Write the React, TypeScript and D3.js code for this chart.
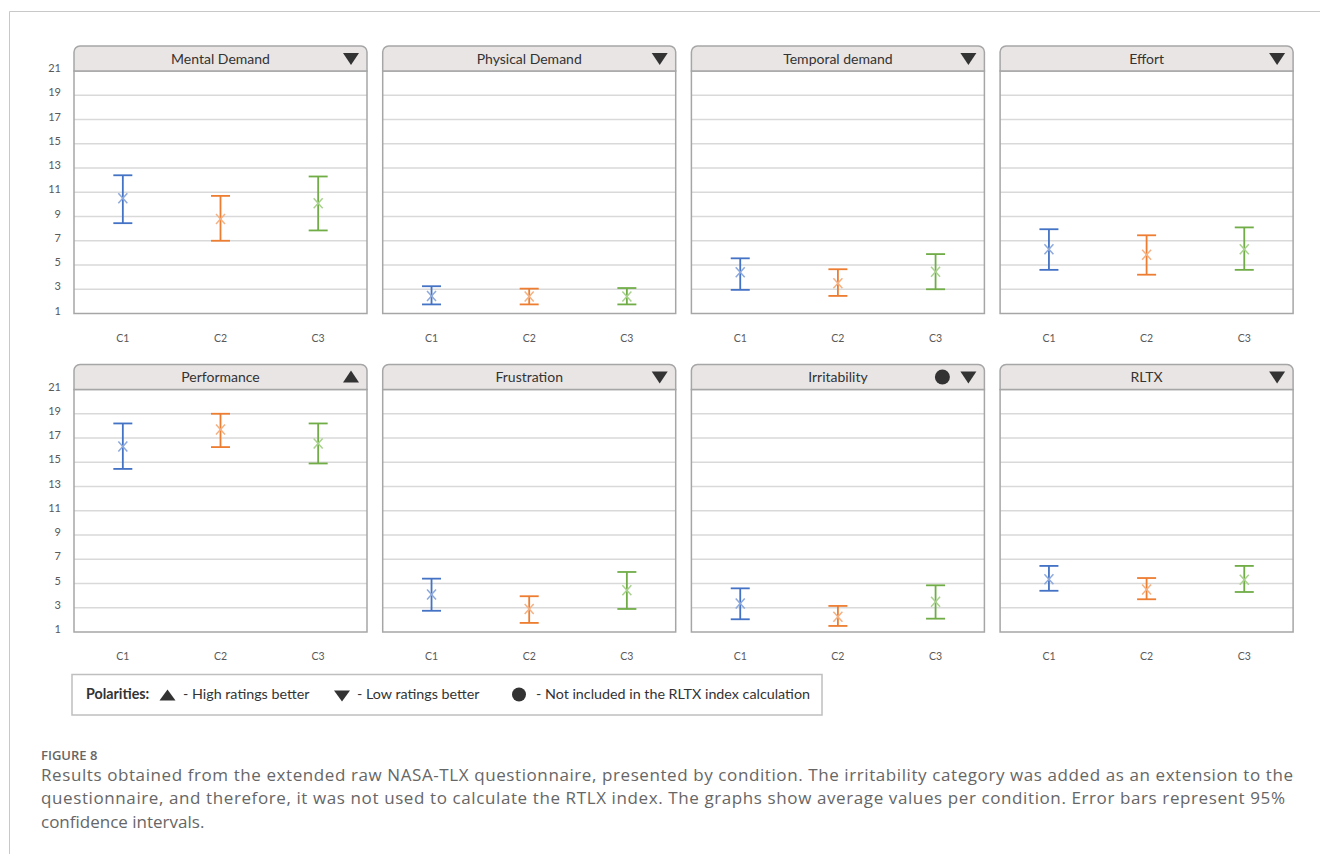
import React from "react";
import * as d3 from "d3";

// NASA-TLX subscales, one panel each
const categories = [
  "Mental Demand",
  "Physical Demand",
  "Temporal demand",
  "Effort",
  "Performance",
  "Frustration",
  "Irritability",
  "RLTX",
];
// polarity marker: "down" = low ratings better, "up" = high ratings better
const polarity = ["down", "down", "down", "down", "up", "down", "down", "down"];
// categories left out of the RLTX index
const excludedFromIndex = [false, false, false, false, false, false, true, false];

const conditions = ["C1", "C2", "C3"];

// mean ratings per category (rows) and condition (columns)
const means = [
  [10.5, 8.8, 10.1],
  [2.45, 2.4, 2.4],
  [4.4, 3.5, 4.45],
  [6.3, 5.85, 6.3],
  [16.3, 17.7, 16.55],
  [4.1, 2.9, 4.45],
  [3.35, 2.25, 3.5],
  [5.35, 4.5, 5.3],
];
// 95% confidence interval bounds
const lower = [
  [8.45, 7.0, 7.85],
  [1.75, 1.75, 1.75],
  [2.95, 2.45, 3.0],
  [4.6, 4.2, 4.6],
  [14.45, 16.25, 14.9],
  [2.75, 1.75, 2.9],
  [2.05, 1.5, 2.1],
  [4.4, 3.7, 4.3],
];
const upper = [
  [12.4, 10.7, 12.3],
  [3.25, 3.05, 3.1],
  [5.55, 4.65, 5.9],
  [7.95, 7.45, 8.1],
  [18.2, 19.0, 18.2],
  [5.4, 3.95, 5.95],
  [4.6, 3.15, 4.85],
  [6.45, 5.45, 6.45],
];

const yTicks = [1, 3, 5, 7, 9, 11, 13, 15, 17, 19, 21];
const yDomain = [1, 21];

const barColors = ["#4472C4", "#ED7D31", "#70AD47"];
const markerColors = ["#8EA9DB", "#F4B183", "#A9D18E"];

const captionHead = "FIGURE 8";
const captionLines = [
  "Results obtained from the extended raw NASA-TLX questionnaire, presented by condition. The irritability category was added as an extension to the",
  "questionnaire, and therefore, it was not used to calculate the RTLX index. The graphs show average values per condition. Error bars represent 95%",
  "confidence intervals.",
];
// wrapped caption lines are set to the text column's measure
const captionWidths = [1252, 1244, null];

const W = 1320;
const H = 854;

// panel grid geometry
const panelLeft0 = 74;
const panelStep = 308.7;
const panelW = 293;
const headerH = 25;
const plotH = 242.5;
const rowTops = [46, 364.5];

const uiFont = "Lato, 'Open Sans', sans-serif";
const gridColor = "#D9D9D9";
const frameColor = "#A6A6A6";
const dark = "#333333";
const tickColor = "#595959";

function DownTri({ cx, cy, w = 16, h = 12 }: { cx: number; cy: number; w?: number; h?: number }) {
  const p = d3.path();
  p.moveTo(cx - w / 2, cy - h / 2);
  p.lineTo(cx + w / 2, cy - h / 2);
  p.lineTo(cx, cy + h / 2);
  p.closePath();
  return <path d={p.toString()} fill={dark} />;
}

function UpTri({ cx, cy, w = 16, h = 12 }: { cx: number; cy: number; w?: number; h?: number }) {
  const p = d3.path();
  p.moveTo(cx - w / 2, cy + h / 2);
  p.lineTo(cx + w / 2, cy + h / 2);
  p.lineTo(cx, cy - h / 2);
  p.closePath();
  return <path d={p.toString()} fill={dark} />;
}

function Panel({ idx }: { idx: number }) {
  const col = idx % 4;
  const row = Math.floor(idx / 4);
  const left = panelLeft0 + col * panelStep;
  const top = rowTops[row];
  const plotTop = top + headerH;
  const plotBottom = plotTop + plotH;

  const y = d3.scaleLinear().domain(yDomain).range([plotBottom, plotTop]);
  const x = d3.scaleBand().domain(conditions).range([left, left + panelW]).padding(0);

  const r = 6;
  const hp = d3.path();
  hp.moveTo(left, plotTop);
  hp.lineTo(left, top + r);
  hp.arcTo(left, top, left + r, top, r);
  hp.lineTo(left + panelW - r, top);
  hp.arcTo(left + panelW, top, left + panelW, top + r, r);
  hp.lineTo(left + panelW, plotTop);
  hp.closePath();

  const right = left + panelW;
  const capHalf = 9.5;
  const mx = 4.5;
  const my = 5;

  return (
    <g>
      <rect x={left} y={plotTop} width={panelW} height={plotH} fill="#FFFFFF" />
      {yTicks
        .filter((t) => t !== yDomain[0] && t !== yDomain[1])
        .map((t) => (
          <line key={t} x1={left} x2={right} y1={y(t)} y2={y(t)} stroke={gridColor} strokeWidth={1.5} />
        ))}
      <rect x={left} y={plotTop} width={panelW} height={plotH} fill="none" stroke={frameColor} strokeWidth={1.5} />
      <path d={hp.toString()} fill="#E9E5E5" stroke={frameColor} strokeWidth={1.5} />
      <text
        x={left + panelW / 2}
        y={top + 17.5}
        textAnchor="middle"
        fontFamily={uiFont}
        fontSize={14}
        fill={dark}
      >
        {categories[idx]}
      </text>
      {polarity[idx] === "down" ? (
        <DownTri cx={right - 16} cy={top + 13} />
      ) : (
        <UpTri cx={right - 16} cy={top + 12} />
      )}
      {excludedFromIndex[idx] && <circle cx={right - 42} cy={top + 12.5} r={7.5} fill={dark} />}

      {conditions.map((c, j) => {
        const cx = (x(c) as number) + x.bandwidth() / 2;
        const yl = y(lower[idx][j]);
        const yu = y(upper[idx][j]);
        const ym = y(means[idx][j]);
        return (
          <g key={c}>
            <line x1={cx} x2={cx} y1={yl} y2={yu} stroke={barColors[j]} strokeWidth={1.8} />
            <line x1={cx - capHalf} x2={cx + capHalf} y1={yu} y2={yu} stroke={barColors[j]} strokeWidth={1.8} />
            <line x1={cx - capHalf} x2={cx + capHalf} y1={yl} y2={yl} stroke={barColors[j]} strokeWidth={1.8} />
            <line x1={cx - mx} x2={cx + mx} y1={ym - my} y2={ym + my} stroke={markerColors[j]} strokeWidth={1.5} />
            <line x1={cx - mx} x2={cx + mx} y1={ym + my} y2={ym - my} stroke={markerColors[j]} strokeWidth={1.5} />
            <text
              x={cx}
              y={plotBottom + 28}
              textAnchor="middle"
              fontFamily={uiFont}
              fontSize={10.5}
              fill={tickColor}
            >
              {c}
            </text>
          </g>
        );
      })}

      {col === 0 &&
        yTicks.map((t) => (
          <text
            key={t}
            x={61}
            y={y(t) + 1}
            textAnchor="end"
            fontFamily={uiFont}
            fontSize={11}
            fill={tickColor}
          >
            {t}
          </text>
        ))}
    </g>
  );
}

export default function App() {
  const legendY = 699;
  const legendFs = 14.3;
  return (
    <svg
      width={W}
      height={H}
      viewBox={`0 0 ${W} ${H}`}
      style={{ position: "absolute", left: 0, top: 0, background: "#FFFFFF" }}
    >
      <rect x={0} y={0} width={W} height={H} fill="#FFFFFF" />
      {/* page frame */}
      <line x1={9.5} x2={W} y1={11.5} y2={11.5} stroke="#C8C8C8" strokeWidth={1} />
      <line x1={9.5} x2={9.5} y1={11.5} y2={H} stroke="#C8C8C8" strokeWidth={1} />

      {categories.map((_, i) => (
        <Panel key={i} idx={i} />
      ))}

      {/* polarity legend */}
      <rect x={72} y={674.5} width={750} height={40.5} fill="#FFFFFF" stroke="#BFBFBF" strokeWidth={1.5} />
      <text x={86} y={legendY} fontFamily={uiFont} fontSize={legendFs} fontWeight={700} fill={dark}>
        Polarities:
      </text>
      <UpTri cx={167.5} cy={legendY - 4} w={16} h={11} />
      <text x={183} y={legendY} fontFamily={uiFont} fontSize={legendFs} fill={dark}>
        - High ratings better
      </text>
      <DownTri cx={342} cy={legendY - 3} w={16} h={11} />
      <text x={357} y={legendY} fontFamily={uiFont} fontSize={legendFs} fill={dark}>
        - Low ratings better
      </text>
      <circle cx={519} cy={legendY - 4.5} r={7} fill={dark} />
      <text x={536} y={legendY} fontFamily={uiFont} fontSize={legendFs} fill={dark}>
        - Not included in the RLTX index calculation
      </text>

      {/* caption */}
      <text x={41} y={760} fontFamily="'Open Sans', sans-serif" fontSize={13} fontWeight={600} fill="#666666">
        {captionHead}
      </text>
      {captionLines.map((line, i) => {
        const tl = captionWidths[i];
        return (
          <text
            key={i}
            x={41}
            y={780.5 + i * 23.5}
            fontFamily="'Open Sans', sans-serif"
            fontSize={17}
            fill="#666666"
            {...(tl ? { textLength: tl, lengthAdjust: "spacing" } : {})}
          >
            {line}
          </text>
        );
      })}
    </svg>
  );
}
